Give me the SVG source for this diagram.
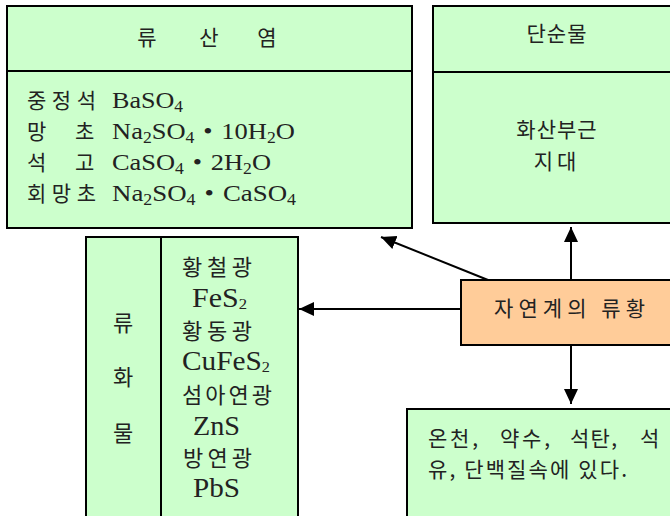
<svg xmlns="http://www.w3.org/2000/svg" width="670" height="516" viewBox="0 0 670 516">
<defs>
<style>
.box{fill:#CCFFCC;stroke:#000;stroke-width:2}
.org{fill:#FFCC99;stroke:#000;stroke-width:2}
.div{stroke:#000;stroke-width:2;fill:none}
.kr{font-family:"Noto Sans CJK KR","Liberation Serif",sans-serif;font-size:21px;fill:#222}
.k2{font-size:22px}
.lt{font-family:"Liberation Serif","Noto Sans CJK KR",serif;font-size:24px;fill:#222}
.l2{font-size:27px}
.sb{font-size:16px}
.s2{font-size:15px}
.con{stroke:#000;stroke-width:2;fill:none;marker-end:url(#ah)}
</style>
<marker id="ah" markerUnits="userSpaceOnUse" markerWidth="16" markerHeight="16" refX="15" refY="8" orient="auto">
<path d="M0,1 L15,8 L0,15 Z" fill="#000"/>
</marker>
</defs>
<rect width="670" height="516" fill="#fff"/>

<g id="sulfates">
<rect class="box" x="7" y="6" width="405" height="222"/>
<line class="div" x1="7" y1="71" x2="412" y2="71"/>
<text class="kr" x="147" y="45" text-anchor="middle">류</text>
<text class="kr" x="209" y="45" text-anchor="middle">산</text>
<text class="kr" x="267" y="45" text-anchor="middle">염</text>
<text class="kr" x="27" y="108" textLength="69">중정석</text>
<text class="lt" x="112" y="108" textLength="71" lengthAdjust="spacingAndGlyphs">BaSO<tspan class="sb" dy="4">4</tspan></text>
<text class="kr" x="27" y="139">망</text>
<text class="kr" x="75" y="139">초</text>
<text class="lt" x="112" y="139" textLength="183" lengthAdjust="spacingAndGlyphs">Na<tspan class="sb" dy="4">2</tspan><tspan dy="-4">SO</tspan><tspan class="sb" dy="4">4</tspan><tspan dy="-4">&#8196;•&#8196;10H</tspan><tspan class="sb" dy="4">2</tspan><tspan dy="-4">O</tspan></text>
<text class="kr" x="27" y="170">석</text>
<text class="kr" x="75" y="170">고</text>
<text class="lt" x="112" y="170" textLength="159" lengthAdjust="spacingAndGlyphs">CaSO<tspan class="sb" dy="4">4</tspan><tspan dy="-4">&#8196;•&#8196;2H</tspan><tspan class="sb" dy="4">2</tspan><tspan dy="-4">O</tspan></text>
<text class="kr" x="27" y="201" textLength="69">회망초</text>
<text class="lt" x="112" y="201" textLength="184" lengthAdjust="spacingAndGlyphs">Na<tspan class="sb" dy="4">2</tspan><tspan dy="-4">SO</tspan><tspan class="sb" dy="4">4</tspan><tspan dy="-4">&#8196;•&#8196;CaSO</tspan><tspan class="sb" dy="4">4</tspan></text>
</g>

<g id="elemental">
<rect class="box" x="433" y="6" width="245" height="217"/>
<line class="div" x1="433" y1="72" x2="678" y2="72"/>
<text class="kr" x="557" y="41" text-anchor="middle" letter-spacing="1">단순물</text>
<text class="kr" x="557" y="137" text-anchor="middle" letter-spacing="1">화산부근</text>
<text class="kr" x="557" y="169" text-anchor="middle" letter-spacing="4">지대</text>
</g>

<g id="sulfides">
<rect class="box" x="86" y="237" width="212" height="290"/>
<line class="div" x1="161" y1="237" x2="161" y2="527"/>
<text class="kr k2" x="123" y="331" text-anchor="middle">류</text>
<text class="kr k2" x="123" y="385" text-anchor="middle">화</text>
<text class="kr k2" x="123" y="441" text-anchor="middle">물</text>
<text class="kr k2" x="182" y="275" textLength="70">황철광</text>
<text class="lt l2" x="192" y="307" textLength="55" lengthAdjust="spacingAndGlyphs">FeS<tspan class="s2" dy="2">2</tspan></text>
<text class="kr k2" x="182" y="339" textLength="70">황동광</text>
<text class="lt l2" x="182" y="370" textLength="88" lengthAdjust="spacingAndGlyphs">CuFeS<tspan class="s2" dy="2">2</tspan></text>
<text class="kr k2" x="182" y="403" textLength="90">섬아연광</text>
<text class="lt l2" x="193" y="435" textLength="47" lengthAdjust="spacingAndGlyphs">ZnS</text>
<text class="kr k2" x="183" y="466" textLength="69">방연광</text>
<text class="lt l2" x="193" y="497" textLength="47" lengthAdjust="spacingAndGlyphs">PbS</text>
</g>

<g id="sulfur">
<rect class="org" x="461" y="280" width="217" height="65"/>
<text class="kr" x="494" y="316" textLength="151">자연계의 류황</text>
</g>

<g id="other">
<rect class="box" x="407" y="409" width="271" height="118"/>
<text class="kr" x="428" y="446" font-size="20" textLength="50">온천,</text>
<text class="kr" x="500" y="446" font-size="20" textLength="50">약수,</text>
<text class="kr" x="570" y="446" font-size="20" textLength="47">석탄,</text>
<text class="kr" x="640" y="446" font-size="20">석</text>
<text class="kr" x="428" y="477" font-size="20" textLength="199">유, 단백질속에 있다.</text>
</g>

<g id="connectors">
<line class="con" x1="488" y1="280" x2="381" y2="237"/>
<line class="con" x1="461" y1="309" x2="299" y2="309"/>
<line class="con" x1="571" y1="280" x2="571" y2="227"/>
<line class="con" x1="571" y1="345" x2="571" y2="404"/>
</g>
</svg>
